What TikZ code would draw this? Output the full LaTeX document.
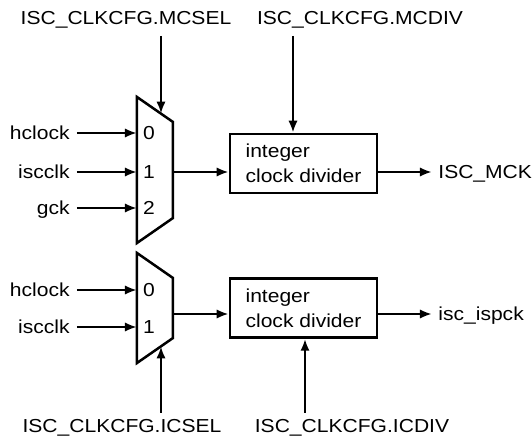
\documentclass[tikz,border=0pt]{standalone}
\usepackage{fontspec}
\setmainfont{Liberation Sans}[FakeStretch=1.12]
\usetikzlibrary{arrows.meta}

\begin{document}
\begin{tikzpicture}[x=0.5pt,y=-0.5pt,
    font=\fontsize{9.4}{12.5}\selectfont,
    sig/.style={line width=1.25pt,-{Latex[length=6pt,width=4.6pt]}},
    muxshape/.style={draw,line width=1.25pt,line join=miter},
    divbox/.style={draw,line width=1.25pt,align=left,minimum width=73.5pt,minimum height=29.5pt},
    inlbl/.style={anchor=base east,inner xsep=3.5pt,inner ysep=0pt},
    outlbl/.style={anchor=base west,inner xsep=3pt,inner ysep=0pt}]
    \useasboundingbox (0,0) rectangle (532,439);

    % register fields
    \node[anchor=base] (mcsel) at (126,25) {ISC\_CLKCFG.MCSEL};
    \node[anchor=base] (mcdiv) at (360,25) {ISC\_CLKCFG.MCDIV};
    \node[anchor=base] (icsel) at (122,433) {ISC\_CLKCFG.ICSEL};
    \node[anchor=base] (icdiv) at (352,433) {ISC\_CLKCFG.ICDIV};

    % upper path
    \draw[muxshape] (137,97) -- (173,122) -- (173,218) -- (137,243) -- cycle;
    \coordinate (m1sel) at (161,113.7);
    \coordinate (m1out) at (173,172);
    \foreach \n/\y/\t in {0/133/hclock,1/172/iscclk,2/208/gck}{
        \node[inlbl] (a\n) at (77,\y+6.5) {\t};
        \coordinate (m1in\n) at (137,\y);
        \node[anchor=base,inner sep=0pt] (m1l\n) at (149,\y+6.5) {\n};
        \draw[sig] (a\n.east |- m1in\n) -- (m1in\n);
    }
    \node[divbox] (div1) at (303.5,163.5) {integer\\clock divider};
    \path (div1.north) ++(-10.5,0) coordinate (d1in);
    \node[outlbl] (mck) at (432,178.5) {ISC\_MCK};

    \draw[sig] (mcsel.south -| m1sel) -- (m1sel);
    \draw[sig] (mcdiv.south -| d1in) -- (d1in);
    \draw[sig] (m1out) -- (m1out -| div1.west);
    \draw[sig] (m1out -| div1.east) -- (mck.west |- m1out);

    % lower path
    \draw[muxshape] (137,253) -- (173,278) -- (173,338) -- (137,363) -- cycle;
    \coordinate (m2sel) at (161,346.3);
    \coordinate (m2out) at (173,314);
    \foreach \n/\y/\t in {0/290/hclock,1/327/iscclk}{
        \node[inlbl] (b\n) at (77,\y+6.5) {\t};
        \coordinate (m2in\n) at (137,\y);
        \node[anchor=base,inner sep=0pt] (m2l\n) at (149,\y+6.5) {\n};
        \draw[sig] (b\n.east |- m2in\n) -- (m2in\n);
    }
    \node[divbox] (div2) at (303.5,308) {integer\\clock divider};
    \path (div2.south) ++(1.5,0) coordinate (d2in);
    \node[outlbl] (ispck) at (432,320.5) {isc\_ispck};

    \draw[sig] (icsel.north -| m2sel) -- (m2sel);
    \draw[sig] (icdiv.north -| d2in) -- (d2in);
    \draw[sig] (m2out) -- (m2out -| div2.west);
    \draw[sig] (m2out -| div2.east) -- (ispck.west |- m2out);
\end{tikzpicture}
\end{document}
